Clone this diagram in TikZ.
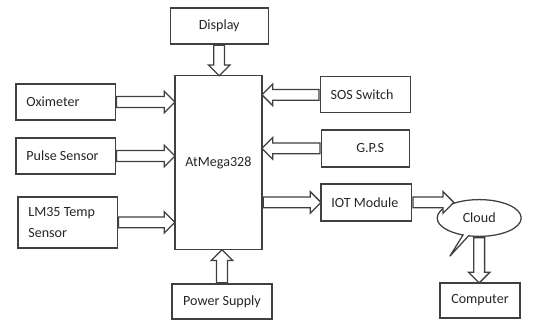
\documentclass[tikz,border=0pt]{standalone}
\usepackage{fontspec}
\setmainfont{Carlito}
\usetikzlibrary{shapes.arrows,shapes.callouts,calc}

% hollow block arrow from one anchor to another
\newcommand{\fatarrow}[2]{%
  \path let \p1=#1, \p2=#2, \n1={veclen(\x2-\x1,\y2-\y1)},
    \n2={atan2(\y2-\y1,\x2-\x1)} in
    node[fat, minimum height=\n1, rotate=\n2] at #1 {};
}

\begin{document}
\begin{tikzpicture}[
  box/.style={rectangle, draw=black!75, line width=0.9pt, minimum height=0.9cm,
    font=\fontsize{10}{12}\selectfont, text=black!85, inner sep=0pt},
  lbox/.style={box, text width=#1, align=flush left, inner xsep=0.26cm},
  fat/.style={single arrow, draw=black!75, fill=white, line width=0.9pt,
    inner sep=0pt, inner ysep=3.4pt, single arrow head extend=3.8pt,
    single arrow tip angle=90, anchor=tail}
]
\useasboundingbox (0,0) rectangle (13.4,8);

% Controller
\node[box, minimum width=2.175cm, minimum height=4.35cm] (mcu) at (5.46,3.93) {AtMega328};

% Top and bottom
\node[box, minimum width=2.45cm] (disp) at (5.48,7.35) {Display};
\node[box, minimum width=2.5cm, minimum height=0.875cm] (pow) at (5.55,0.46) {Power Supply};

% Inputs on the left
\node[lbox=1.96cm] (oxi) at (1.64,5.45) {Oximeter};
\node[lbox=1.96cm] (pulse) at (1.64,4.1) {Pulse Sensor};
\node[lbox=1.96cm, minimum height=1.275cm, font=\fontsize{10}{15.5}\selectfont] (lm35) at (1.69,2.44) {LM35 Temp\\Sensor};

% Right side
\node[lbox=1.73cm] (sos) at (9.13,5.63) {SOS Switch};
\node[box, minimum width=2.2cm, minimum height=0.925cm] (gps) at (9.13,4.29) {\hspace*{0.25cm}G.P.S};
\node[lbox=1.75cm, minimum height=0.925cm] (iot) at (9.16,2.94) {IOT Module};
\node[ellipse callout, draw=black!75, line width=0.9pt, fill=white, minimum width=2.1cm,
  minimum height=0.92cm, inner sep=0pt, font=\fontsize{10}{12}\selectfont, text=black!85,
  callout relative pointer={(-0.4,-0.52)}, callout pointer arc=8] (cloud) at (11.98,2.55) {Cloud};
\node[box, minimum width=2cm, minimum height=0.875cm] (comp) at (12,0.49) {Computer};

% Arrows
\fatarrow{(disp.south)}{(disp.south |- mcu.north)}
\fatarrow{(pow.north)}{(pow.north |- mcu.south)}
\fatarrow{(oxi.east)}{(oxi.east -| mcu.west)}
\fatarrow{(pulse.east)}{(pulse.east -| mcu.west)}
\fatarrow{(lm35.east)}{(lm35.east -| mcu.west)}
\fatarrow{(sos.west)}{(sos.west -| mcu.east)}
\fatarrow{(gps.west)}{(gps.west -| mcu.east)}
\fatarrow{(iot.west -| mcu.east)}{(iot.west)}
\fatarrow{(iot.east)}{(cloud.150 |- iot.east)}
\fatarrow{(cloud.south)}{(cloud.south |- comp.north)}

\end{tikzpicture}
\end{document}
